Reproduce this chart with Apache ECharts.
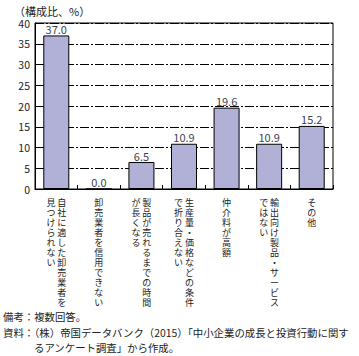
<!DOCTYPE html>
<html>
<head>
<meta charset="utf-8">
<script src="https://cdn.jsdelivr.net/npm/echarts@6/dist/echarts.min.js"></script>
<style>
  html, body { margin: 0; padding: 0; background: #fff; }
  #chart { width: 359px; height: 356px; }
</style>
</head>
<body>
<div id="chart"></div>
<script>
// Categories: "\n" marks a break between vertical columns (first column is rightmost)
const categories = [
  "自社に適した卸売業者を\n見つけられない",
  "卸売業者を信用できない",
  "製品が売れるまでの時間\nが長くなる",
  "生産量・価格などの条件\nで折り合えない",
  "仲介料が高額",
  "輸出向け製品・サービス\nではない",
  "その他"
];
const values = [37.0, 0.0, 6.5, 10.9, 19.6, 10.9, 15.2];
const yTicks = { min: 0, max: 40, interval: 5 };
const unitLabel = "（構成比、%）";
const notes = [
  "備考：複数回答。",
  "資料：（株）帝国データバンク（2015）「中小企業の成長と投資行動に関す",
  "るアンケート調査」から作成。"
];

const FONT = "'Noto Sans CJK JP', 'Noto Sans', sans-serif";

function verticalText(label) {
  const cols = label.split("\n").map(s => Array.from(s));
  const rows = Math.max(...cols.map(c => c.length));
  const lines = [];
  for (let i = 0; i < rows; i++) {
    const parts = [];
    for (let c = cols.length - 1; c >= 0; c--) {
      parts.push(cols[c][i] || "\u3000");
    }
    lines.push(parts.join("\u2009"));
  }
  return lines.join("\n");
}

const chart = echarts.init(document.getElementById('chart'), null, { renderer: 'svg' });
chart.setOption({
  animation: false,
  backgroundColor: '#fff',
  textStyle: { fontFamily: FONT },
  grid: {
    left: 35, right: 26, top: 23, bottom: 167,
    show: true, borderColor: '#000', borderWidth: 1, backgroundColor: 'transparent'
  },
  xAxis: {
    type: 'category',
    data: categories,
    axisLine: { show: true, lineStyle: { color: '#000', width: 1 } },
    axisTick: { show: true, inside: true, length: 4, lineStyle: { color: '#000' } },
    axisLabel: {
      interval: 0,
      margin: 8,
      fontSize: 9,
      lineHeight: 10,
      color: '#222',
      fontFamily: FONT,
      align: 'center',
      verticalAlign: 'top',
      formatter: v => verticalText(v)
    }
  },
  yAxis: {
    type: 'value',
    min: yTicks.min, max: yTicks.max, interval: yTicks.interval,
    axisLine: { show: true, lineStyle: { color: '#000', width: 1 } },
    axisTick: { show: false },
    axisLabel: { fontSize: 10.5, color: '#222', margin: 5, fontFamily: FONT },
    splitLine: { show: true, lineStyle: { color: '#000', width: 1, type: [9, 2, 2, 2] } }
  },
  series: [{
    type: 'bar',
    data: values,
    barWidth: 26,
    itemStyle: { color: '#b1b1d8', borderColor: '#000', borderWidth: 1 },
    label: {
      show: true,
      position: 'top',
      distance: 1,
      fontSize: 11,
      color: '#3f3f4f',
      fontFamily: FONT,
      formatter: p => p.value.toFixed(1)
    }
  }],
  graphic: [
    { type: 'text', left: 14, top: 5, style: { text: unitLabel, font: `11px ${FONT}`, fill: '#222' } },
    { type: 'text', x: 3, y: 316, style: { text: notes[0], font: `10.4px ${FONT}`, fill: '#222', verticalAlign: 'middle' } },
    { type: 'text', x: 3, y: 332, style: { text: notes[1], font: `10.4px ${FONT}`, fill: '#222', verticalAlign: 'middle' } },
    { type: 'text', x: 34, y: 347, style: { text: notes[2], font: `10.4px ${FONT}`, fill: '#222', verticalAlign: 'middle' } }
  ]
});
</script>
</body>
</html>
